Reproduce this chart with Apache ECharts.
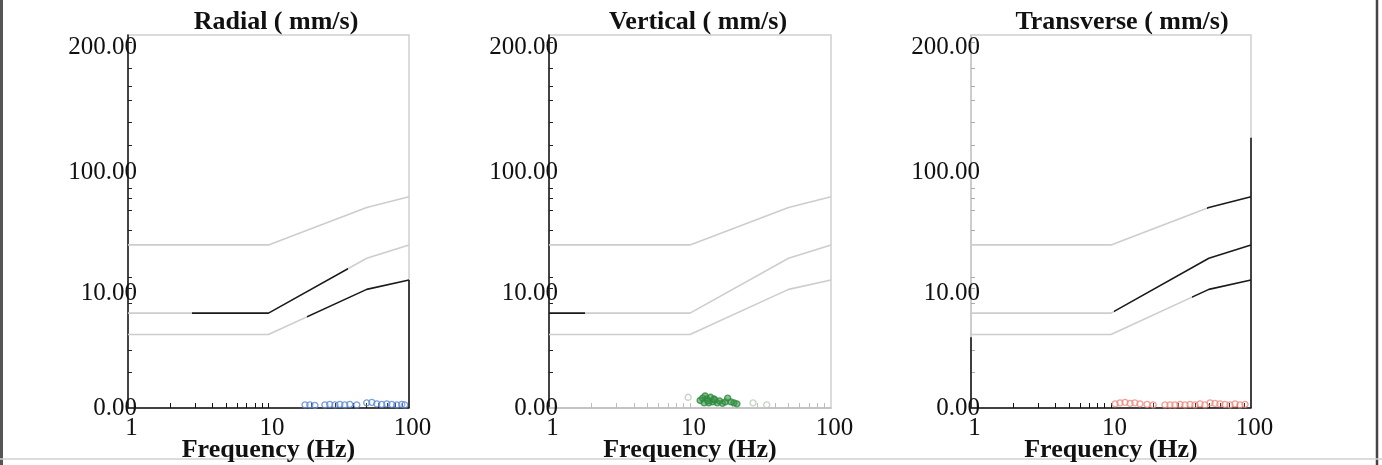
<!DOCTYPE html>
<html>
<head>
<meta charset="utf-8">
<script src="https://cdn.jsdelivr.net/npm/echarts@6/dist/echarts.min.js"></script>
<style>
html,body{margin:0;padding:0;background:#fff;}
#c{width:1382px;height:465px;}
</style>
</head>
<body>
<div id="c"></div>
<script>
// ---- data ----
const panelTitles = ['Radial ( mm/s)', 'Vertical ( mm/s)', 'Transverse ( mm/s)'];
const xTitle = 'Frequency (Hz)';
const curveFreqs = [1, 10, 50, 100];
const curveUpper = [20.5, 20.5, 41, 50];
const curveMiddle = [5.8, 5.8, 16, 20.5];
const curveLower = [3.9, 3.9, 9, 10.7];
const yLabelValues = [1, 8.4, 79, 787];
const yLabelTexts = ['0.00', '10.00', '100.00', '200.00'];
const yTickValues = [1.95, 2.9, 5.8, 6.9, 9.2, 11.3, 27, 39, 49, 59, 130, 200, 300, 389, 544, 880];
const xTickValues = [2, 3, 4, 5, 6, 7, 8, 9, 10, 20, 30, 40, 50, 60, 70, 80, 90];
const xLabelValues = [1, 10, 100];

// radial (blue)
const radialFreq = [18.2, 19.7, 21.4, 25.2, 27.3, 29.7, 32.2, 34.9, 37.9, 42.5, 50, 54.4, 59, 64, 69.5, 75.4, 81.8, 88.8, 93.3];
const radialPPV  = [1.06, 1.06, 1.05, 1.06, 1.07, 1.06, 1.07, 1.06, 1.07, 1.06, 1.1, 1.11, 1.08, 1.07, 1.08, 1.07, 1.06, 1.07, 1.06];
// vertical (green)
const vertFreq = [11.8, 12.3, 12.8, 13.2, 13.6, 14.0, 14.5, 15.0, 15.6, 16.2, 17.0, 17.8, 18.5, 19.5, 20.5, 21.5, 12.6, 13.4, 14.8];
const vertPPV  = [1.15, 1.2, 1.25, 1.18, 1.1, 1.22, 1.12, 1.16, 1.1, 1.14, 1.09, 1.12, 1.2, 1.12, 1.1, 1.08, 1.1, 1.14, 1.18];
const vertFaintFreq = [9.7, 28, 35];
const vertFaintPPV  = [1.22, 1.1, 1.06];
// transverse (red)
const transFreq = [10.7, 11.6, 12.6, 13.7, 14.8, 16.1, 18.1, 20, 24.3, 26.4, 28.6, 31.1, 33.8, 36.7, 39.8, 43.2, 46.9, 51, 55.3, 60, 65.2, 70.8, 76.9, 83.4, 90.6];
const transPPV  = [1.08, 1.1, 1.11, 1.09, 1.1, 1.08, 1.07, 1.06, 1.06, 1.06, 1.06, 1.07, 1.06, 1.07, 1.06, 1.08, 1.06, 1.1, 1.09, 1.08, 1.07, 1.06, 1.08, 1.06, 1.07];

// scanned dark portions of the limit curves [panel, curve, fromHz, toHz]
const darkCurveSpans = [
  [0, 1, 2.85, 36.8], [0, 2, 18.8, 100],
  [1, 1, 1, 1.8],
  [2, 0, 48.5, 100], [2, 1, 10.5, 100], [2, 2, 38, 100]
];
// dark portions of frame edges [panel, xHz, fromPPV, toPPV]
const darkFrameSpans = [
  [0, 100, 1, 10.7],
  [2, 100, 1, 149],
  [2, 1, 1, 3.7]
];

// ---- layout ----
const grids = [
  {left: 128, top: 35, width: 281, height: 373},
  {left: 549, top: 35, width: 282, height: 373},
  {left: 971, top: 35, width: 280, height: 373}
];
const titleCenters = [271, 693, 1117];
const leftAxisColor = ['#111', '#111', '#c8c8c8'];
const bottomAxisColor = ['#111', '#bdbdbd', '#111'];
const FONT = '"Liberation Serif", "DejaVu Serif", serif';
const GRAY = '#cdcdcd';
const DARK = '#1a1a1a';

const chart = echarts.init(document.getElementById('c'), null, {renderer: 'canvas'});

const xAxes = [], yAxes = [], series = [], visualMaps = [], titles = [];
const curves = [curveUpper, curveMiddle, curveLower];
const curveSeriesIndex = {};
const hasDark = {};
darkCurveSpans.forEach(s => { hasDark[s[0] + '_' + s[1]] = true; });

grids.forEach((g, i) => {
  titles.push({
    text: panelTitles[i], left: titleCenters[i], top: 4, textAlign: 'center',
    textStyle: {fontFamily: FONT, fontSize: 26, fontWeight: 'bold', color: '#111'}
  });
  xAxes.push({
    type: 'log', logBase: 10, gridIndex: i, min: 1, max: 100,
    name: xTitle, nameLocation: 'middle', nameGap: 42, nameMoveOverlap: false,
    nameTextStyle: {fontFamily: FONT, fontSize: 26, fontWeight: 'bold', color: '#111', verticalAlign: 'middle', padding: 0},
    axisLine: {show: true, lineStyle: {color: bottomAxisColor[i], width: 1.5}},
    axisTick: {show: true, inside: true, length: 5, customValues: xTickValues,
      lineStyle: {color: bottomAxisColor[i], width: 1}},
    axisLabel: {customValues: xLabelValues, margin: 8, padding: [0, 0, 0, 7],
      fontFamily: FONT, fontSize: 25, color: '#111', formatter: v => String(Math.round(v))},
    splitLine: {show: false}, minorTick: {show: false}
  });
  yAxes.push({
    type: 'log', logBase: 10, gridIndex: i, min: 1, max: 1000,
    axisLine: {show: true, lineStyle: {color: leftAxisColor[i], width: 1.5}},
    axisTick: {show: true, inside: true, length: 4, customValues: yTickValues,
      lineStyle: {color: i === 2 ? '#aaa' : '#222', width: 1}},
    axisLabel: {
      customValues: yLabelValues, margin: -9,
      fontFamily: FONT, fontSize: 25, color: '#111',
      formatter: v => {
        let best = 0, d = Infinity;
        yLabelValues.forEach((lv, k) => {
          const dd = Math.abs(Math.log10(lv) - Math.log10(v));
          if (dd < d) { d = dd; best = k; }
        });
        return yLabelTexts[best];
      }
    },
    splitLine: {show: false}
  });
  curves.forEach((cv, ci) => {
    const key = i + '_' + ci;
    curveSeriesIndex[key] = series.length;
    const s = {
      type: 'line', xAxisIndex: i, yAxisIndex: i, showSymbol: false, silent: true,
      data: curveFreqs.map((f, k) => [f, cv[k]]),
      lineStyle: {width: 1.6},
      animation: false, z: 2
    };
    if (!hasDark[key]) { s.lineStyle.color = GRAY; s.itemStyle = {color: GRAY}; }
    series.push(s);
  });
});

darkCurveSpans.forEach(([p, ci, a, b]) => {
  visualMaps.push({
    type: 'piecewise', show: false, dimension: 0,
    seriesIndex: curveSeriesIndex[p + '_' + ci],
    pieces: [{gte: a, lte: b, color: DARK}],
    outOfRange: {color: GRAY}
  });
});

function scatterSeries(panel, fx, vy, border, fill, z) {
  return {
    type: 'scatter', xAxisIndex: panel, yAxisIndex: panel, symbol: 'circle', symbolSize: 6,
    data: fx.map((f, k) => [f, vy[k]]),
    itemStyle: {color: fill, borderColor: border, borderWidth: 1.4},
    animation: false, silent: true, z: z || 3
  };
}
series.push(scatterSeries(0, radialFreq, radialPPV, '#5b8ad6', 'rgba(255,255,255,0.2)'));
series.push(scatterSeries(1, vertFaintFreq, vertFaintPPV, '#b9c9b9', 'rgba(255,255,255,0.2)'));
series.push(scatterSeries(1, vertFreq, vertPPV, '#2f8a3e', 'rgba(60,150,75,0.75)', 4));
series.push(scatterSeries(2, transFreq, transPPV, '#f0877c', 'rgba(255,255,255,0.2)'));

// frame edge overlays as markLines on helper series
[0, 1, 2].forEach(p => {
  const spans = darkFrameSpans.filter(s => s[0] === p);
  if (!spans.length) return;
  series.push({
    type: 'line', xAxisIndex: p, yAxisIndex: p, data: [], silent: true, animation: false,
    markLine: {
      symbol: 'none', silent: true, animation: false, label: {show: false},
      lineStyle: {color: DARK, width: 1.6, type: 'solid'},
      data: spans.map(s => [{coord: [s[1], s[2]]}, {coord: [s[1], s[3]]}])
    }
  });
});

chart.setOption({
  backgroundColor: '#fff',
  animation: false,
  title: titles,
  grid: grids.map(g => Object.assign({show: true, borderColor: '#cfcfcf', borderWidth: 1.5,
    backgroundColor: 'transparent', containLabel: false, outerBoundsMode: 'none'}, g)),
  xAxis: xAxes,
  yAxis: yAxes,
  visualMap: visualMaps,
  series: series,
  graphic: [
    {type: 'line', shape: {x1: 1.5, y1: 0, x2: 1.5, y2: 465}, style: {stroke: '#555', lineWidth: 3}, silent: true},
    {type: 'line', shape: {x1: 1377, y1: 0, x2: 1377, y2: 465}, style: {stroke: '#444', lineWidth: 2.5}, silent: true},
    {type: 'line', shape: {x1: 0, y1: 459, x2: 1382, y2: 459}, style: {stroke: '#d0d0d0', lineWidth: 1.5}, silent: true}
  ]
});
</script>
</body>
</html>
